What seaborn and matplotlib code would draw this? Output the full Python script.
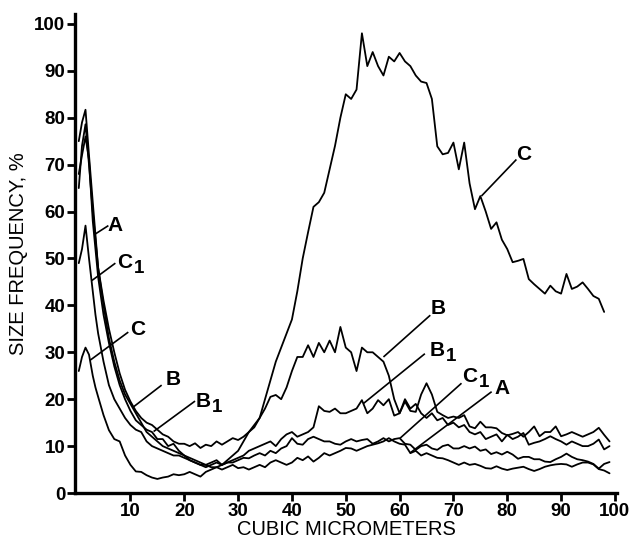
import matplotlib
matplotlib.use("Agg")
import matplotlib.pyplot as plt
import seaborn as sns
import pandas as pd

# ---------------- data ----------------
X_HEAD = [0.4, 1.0, 1.65, 2.3, 3.0, 3.5]
X_TAIL = list(range(4, 100))
X = X_HEAD + X_TAIL

A = [75, 79, 81.7, 72, 62, 55,
     48, 40, 33, 28, 24, 21,
     19, 17, 15, 13, 12, 11, 10, 9.5, 9, 8.5,
     8, 7, 6.5, 6, 6, 5.5, 5.5, 5, 5.5, 6,
     5.3, 5.5, 5, 5.5, 6, 5.5, 6.5, 7, 6.5, 6,
     6.5, 7.5, 7, 7.8, 6.7, 7.5, 8.5, 8, 8.5, 9,
     9.6, 9.5, 9, 9.5, 10, 10.3, 10.6, 11, 11.7, 11,
     10.5, 10.3, 8.5, 9, 8, 8.5, 8, 7.5, 7.4, 7,
     6.5, 6, 6.5, 6, 6.2, 5.8, 5.3, 5.2, 5.7, 5.2,
     4.9, 5.2, 5.4, 5.6, 5.1, 4.7, 5.1, 5.6, 5.9, 6.1,
     6.2, 6.1, 5.6, 6.1, 6.5, 6.5, 6.1, 5.1, 4.8, 4.2]

B = [65, 74, 78.6, 70, 60, 54,
     48, 41, 35, 30, 25.5, 22,
     19.5, 17.5, 16, 15, 14.5, 13.5, 12.5, 12, 11, 10.5,
     10.5, 10, 10.6, 9.6, 10.3, 10, 11, 10.3, 11, 11.7,
     11.3, 12, 13, 14.5, 16, 18, 20.5, 20.9, 20, 22.5,
     26, 29, 29, 31.5, 29, 32, 30, 32.5, 30, 35.4,
     31, 30, 26, 31, 30, 30, 29, 28, 25, 20,
     17, 20, 18, 19, 17, 16, 17, 15.5, 16, 14.5,
     15, 14, 14.5, 13, 12.5, 13, 11.5, 12, 12.5, 11,
     12.4, 11.5, 12, 12.8, 10.3, 10.7, 11, 11.5, 12.1, 11.5,
     11, 10.3, 11, 10.5, 10, 10, 10.5, 11.4, 9.3, 10]

B1 = [68, 72, 76, 71, 58, 52,
      46, 38, 32, 27, 23, 20,
      17.5, 15.5, 14.5, 13.5, 13, 11.5, 11.5, 10, 10.5, 9,
      8, 7.5, 7, 6.5, 6, 6.5, 7, 6, 6.5, 7,
      7.5, 8, 9, 9.5, 10, 10.5, 11, 10, 11.5, 12.5,
      13, 12, 12.5, 13, 14, 18.5, 17.5, 17.3, 18, 17,
      17, 17.5, 18, 19.8, 17, 18, 19.8, 18.7, 20, 16.5,
      17, 19.5, 17.5, 17.3, 21, 23.4, 21, 17.3, 16.6, 16,
      16.3, 16, 16.6, 14.2, 13.8, 15.2, 14, 14, 13.8, 12.8,
      12.3, 12.6, 13, 12, 13, 14.2, 12.1, 13, 13, 14.2,
      12.1, 12.5, 13, 12.5, 12, 12.5, 13, 13.9, 12.4, 11]

C = [26, 29, 31, 29.5, 25, 22.5,
     20.5, 16.6, 13.4, 11.5, 11, 8,
     6, 4.6, 4.5, 3.8, 3.3, 3, 3.3, 3.5, 4, 3.8,
     4, 4.5, 4, 3.5, 4.5, 5, 5.5, 6, 7, 8,
     9, 11, 13, 14, 16, 20, 24, 28, 31, 34,
     37, 43, 50, 55.6, 61, 62, 64, 69, 74, 80,
     85, 84, 86, 98, 91, 94, 91, 89, 93, 92,
     93.8, 92, 91, 89, 87.7, 87.4, 84, 73.9, 72.2, 72.5,
     74.7, 69, 74.7, 66, 60.5, 63.3, 60, 56.3, 57.7, 54,
     52, 49.2, 49.5, 49.9, 45.6, 44.5, 43.5, 42.5, 44.2, 43,
     42.5, 46.7, 43.5, 44, 44.9, 43.5, 42, 41.4, 38.6]

C1 = [49, 52, 57, 50, 43, 38,
      34, 28, 23, 20, 18, 16,
      14.5, 13.5, 13, 11, 10, 9.5, 9, 8.5, 8, 8,
      7.5, 7, 6.5, 6, 5.5, 6, 6.5, 6, 6.5, 6.5,
      7, 7.5, 7.4, 8, 8.5, 8, 9, 8.5, 9.5, 10,
      11.7, 10.5, 10.3, 11.5, 12, 11.5, 11, 11, 10.5, 10.3,
      11, 11.5, 11, 11.3, 11.5, 10.5, 11, 11.7, 11, 11.5,
      11.7, 10.5, 10.3, 9.2, 10, 10.3, 9.5, 9.2, 10, 10.3,
      9.5, 9.5, 10, 9.5, 9.9, 9, 9.3, 8.3, 8.7, 8.2,
      8.8, 8.2, 7.3, 7.7, 7.7, 7.2, 7.2, 6.7, 6.6, 7.2,
      7.7, 8.4, 7.7, 7.2, 7, 6.7, 6.2, 5.2, 6.2, 6.6]

SERIES = {"A": A, "B": B, "B1": B1, "C": C, "C1": C1}

X_TICKS = [10, 20, 30, 40, 50, 60, 70, 80, 90, 100]
Y_TICKS = [0, 10, 20, 30, 40, 50, 60, 70, 80, 90, 100]

# curve labels: (letter, subscript, point on curve, leader end, text centre)
LABELS = [
    ("A", "", (3.45, 55.2), (5.9, 57.0), (7.2, 57.0)),
    ("C", "1", (2.84, 45.3), (7.2, 49.0), (9.0, 49.2)),
    ("C", "", (2.5, 28.3), (9.6, 34.3), (11.3, 34.9)),
    ("B", "", (10.6, 18.4), (15.8, 23.0), (18.0, 24.3)),
    ("B", "1", (14.3, 13.1), (22.0, 19.6), (23.6, 19.6)),
    ("C", "", (75.2, 63.3), (81.7, 71.1), (83.0, 72.2)),
    ("B", "", (57.0, 29.0), (65.7, 37.9), (67.2, 39.3)),
    ("B", "1", (53.3, 19.1), (64.7, 29.7), (66.9, 30.4)),
    ("C", "1", (60.1, 11.7), (71.5, 23.4), (73.1, 24.8)),
    ("A", "", (61.9, 8.5), (77.1, 21.6), (79.0, 22.3)),
]

rows = []
for name, vals in SERIES.items():
    for xv, yv in zip(X, vals):
        rows.append({"x": xv, "y": yv, "curve": name})
df = pd.DataFrame(rows)

# ---------------- style ----------------
sns.set_style("ticks")
plt.rcParams["font.family"] = ["Liberation Sans", "DejaVu Sans"]

fig = plt.figure(figsize=(6.34, 5.4), dpi=100)
ax = fig.add_axes([0.1183, 0.087, 0.855, 0.887])

sns.lineplot(data=df, x="x", y="y", units="curve", estimator=None,
             sort=False, color="black", linewidth=1.3, ax=ax, legend=False)

for letter, sub, p_curve, p_end, p_text in LABELS:
    ax.plot([p_curve[0], p_end[0]], [p_curve[1], p_end[1]],
            color="black", linewidth=1.2, solid_capstyle="butt")
    ax.text(p_text[0], p_text[1], letter, ha="center", va="center",
            fontsize=15, fontweight="bold", color="black")
    if sub:
        ax.annotate(sub, xy=p_text, xycoords="data", xytext=(10, -4.5),
                    textcoords="offset points", ha="center", va="center",
                    fontsize=13.5, fontweight="bold", color="black")

ax.set_xlim(-0.3, 100.4)
ax.set_ylim(0, 102.1)
ax.set_xticks(X_TICKS)
ax.set_yticks(Y_TICKS)
ax.set_xticklabels([str(t) for t in X_TICKS], fontweight="bold")
ax.set_yticklabels([str(t) for t in Y_TICKS], fontweight="bold")
ax.tick_params(axis="both", direction="out", length=5.5, width=2.0,
               labelsize=13.5, pad=1.5, color="black", labelcolor="black")

for side in ("top", "right"):
    ax.spines[side].set_visible(False)
for side in ("left", "bottom"):
    ax.spines[side].set_linewidth(2.4)
    ax.spines[side].set_color("black")

ax.set_xlabel("CUBIC MICROMETERS", fontsize=14.5, color="black")
ax.set_ylabel("SIZE FREQUENCY, %", fontsize=14.5, color="black")
ax.xaxis.set_label_coords(0.5, -0.077)
ax.xaxis.label.set_va("center")
ax.yaxis.set_label_coords(-0.105, 0.5)
ax.yaxis.label.set_va("center")

fig.savefig("out.png", dpi=100, facecolor="white")
